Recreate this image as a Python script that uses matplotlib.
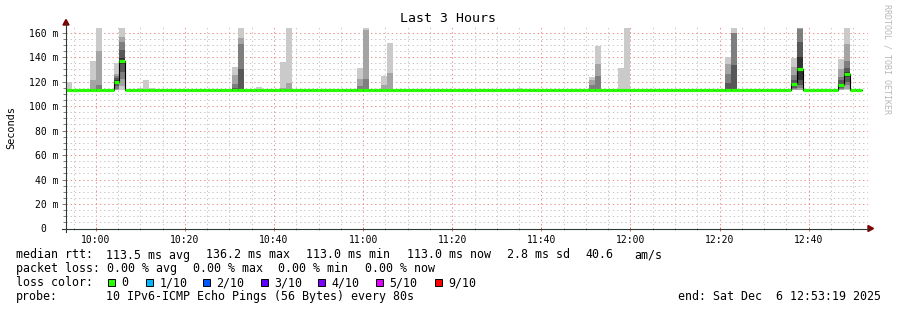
import matplotlib
matplotlib.use("Agg")
import matplotlib.pyplot as plt
from matplotlib.lines import Line2D
from matplotlib.patches import Polygon, Rectangle
from matplotlib.ticker import FixedLocator, MultipleLocator
import numpy as np

W, H = 897, 310
MONO = "DejaVu Sans Mono"

# ---------------- data ----------------
title = "Last 3 Hours"
ylabel = "Seconds"
watermark = "RRDTOOL / TOBI OETIKER"

start_min = -(6 + 41 / 60)      # graph start 09:53:19, minutes relative to 10:00
step_min = 80 / 60              # one probe round every 80 s
n_steps = 134                   # number of rounds with data
base_median = 113.0             # ms, median rtt when nothing happens

# rounds (index from graph start) that show smoke; 10 ping rtts each (ms)
event_steps = [0, 4, 5, 8, 9, 12, 13, 14, 28, 29, 32, 36, 37, 49, 50, 53, 54,
               76, 88, 89, 93, 94, 111, 112, 122, 123, 130, 131]
event_pings = [
    [113, 113, 113, 113, 113, 113, 113, 113, 113, 119.6],
    [113, 113, 113, 113, 113, 113, 113, 113, 121, 136.7],
    [113, 113, 113, 113, 113, 113, 113, 117.4, 145, 164],
    [113, 113, 114, 116, 118, 121, 123, 124.7, 126.4, 134.8],
    [113, 116, 122, 128, 134, 139, 146, 152.2, 156.3, 164],
    [113, 113, 113, 113, 113, 113, 113, 113, 113, 115],
    [113, 113, 113, 113, 113, 113, 113, 113, 113, 121.2],
    [113, 113, 113, 113, 113, 113, 113, 113, 113, 114.5],
    [113, 113, 113, 113, 113, 113, 115, 118.2, 125, 131.8],
    [113, 113, 113, 113, 113, 113, 130.5, 150.9, 155.5, 164],
    [113, 113, 113, 113, 113, 113, 113, 113, 113, 115.5],
    [113, 113, 113, 113, 113, 113, 113, 113, 115, 135.9],
    [113, 113, 113, 113, 113, 113, 113, 113, 118.8, 164],
    [113, 113, 113, 113, 113, 113, 113, 116, 121.8, 131],
    [113, 113, 113, 113, 113, 113, 113, 121.8, 162, 164],
    [113, 113, 113, 113, 113, 113, 113, 113, 117.4, 124.5],
    [113, 113, 113, 113, 113, 113, 113, 113, 126.9, 151.4],
    [113, 113, 113, 113, 113, 113, 113, 113, 113, 114.8],
    [113, 113, 113, 113, 113, 113, 113, 117, 121, 123.7],
    [113, 113, 113, 113, 113, 113, 113, 124.5, 134.5, 149],
    [113, 113, 113, 113, 113, 113, 113, 113, 113, 131],
    [113, 113, 113, 113, 113, 113, 113, 113, 113, 164],
    [113, 113, 113, 113, 113, 113, 118.8, 126.4, 134.5, 140],
    [113, 113, 113, 113, 113, 113, 133.2, 159.4, 160, 164],
    [113, 113, 114, 115, 117, 119, 121, 125, 131.8, 139.2],
    [113, 113, 115, 117, 121, 140, 152.2, 163, 163.5, 164],
    [113, 113, 114, 115, 116, 118, 121, 123.7, 130.5, 138.6],
    [113, 114, 117, 120, 124, 128, 131, 136.5, 150.9, 164],
]
median_steps = [8, 9, 122, 123, 130, 131]
median_values = [119.6, 136.5, 118.0, 130.5, 117.0, 126.1]

xtick_pos = [0, 20, 40, 60, 80, 100, 120, 140, 160]
xtick_labels = ["10:00", "10:20", "10:40", "11:00", "11:20", "11:40",
                "12:00", "12:20", "12:40"]
ytick_pos = [0, 20, 40, 60, 80, 100, 120, 140, 160]
ytick_labels = ["0  ", "20 m", "40 m", "60 m", "80 m", "100 m", "120 m",
                "140 m", "160 m"]

legend_rows = [
    ("median rtt:", [("113.5 ms avg", 106), ("136.2 ms max", 206),
                     ("113.0 ms min", 306), ("113.0 ms now", 406.5),
                     ("2.8 ms sd", 506.5), ("40.6", 585), ("am/s", 634.5)]),
    ("packet loss:", [("0.00 % avg", 106.5), ("0.00 % max", 192.5),
                      ("0.00 % min", 278.5), ("0.00 % now", 364.5)]),
    ("loss color:", []),
    ("probe:", [("10 IPv6-ICMP Echo Pings (56 Bytes) every 80s", 106)]),
]
loss_labels = ["0", "1/10", "2/10", "3/10", "4/10", "5/10", "9/10"]
loss_colors = ["#26ff00", "#00b8ff", "#0059ff", "#5e00ff", "#7e00ff",
               "#dd00ff", "#ff0000"]
loss_box_x = [108.3, 146, 203.3, 260.7, 318.3, 376, 435]
end_text = "end: Sat Dec  6 12:53:19 2025"

smoke_shades = ["#cacaca", "#a4a4a4", "#7e7e7e", "#585858", "#323232"]

# ---------------- figure ----------------
fig = plt.figure(figsize=(W / 100, H / 100), dpi=100, facecolor="white")


def fx(x):
    return x / W


def fy(y):
    return 1 - y / H


ax = fig.add_axes([fx(66), fy(228.5), (868 - 66) / W, (228.5 - 27) / H])
ax.set_facecolor("white")
for sp in ax.spines.values():
    sp.set_visible(False)

x_end = start_min + (n_steps + 1) * step_min
ax.set_xlim(start_min, x_end)
ax.set_ylim(0, 164.6)

# grid
ax.set_axisbelow(True)
ax.xaxis.set_major_locator(FixedLocator(xtick_pos))
ax.xaxis.set_minor_locator(MultipleLocator(5))
ax.yaxis.set_major_locator(FixedLocator(ytick_pos))
ax.yaxis.set_minor_locator(MultipleLocator(5))
ax.set_xticklabels(xtick_labels, family=MONO, fontsize=7)
ax.set_yticklabels(ytick_labels, family=MONO, fontsize=7)
ax.grid(which="minor", color="#c8c8c8", linestyle=(0, (1.39, 2.78)),
        linewidth=0.72)
ax.grid(which="major", color="#ee9090", linestyle=(0, (1.39, 2.78)),
        linewidth=0.72)
ax.tick_params(axis="y", which="both", direction="out", width=0.7,
               color="#808080")
ax.tick_params(axis="y", which="major", length=3, pad=2.5)
ax.tick_params(axis="y", which="minor", length=2)
ax.tick_params(axis="x", which="both", direction="inout", width=0.7)
ax.tick_params(axis="x", which="major", length=3, color="#d07070", pad=3)
ax.tick_params(axis="x", which="minor", length=2, color="#b0b0b0")

# smoke
for s, pings in zip(event_steps, event_pings):
    p = sorted(pings)
    x0 = start_min + s * step_min
    for k in range(5):
        lo, hi = p[k], p[9 - k]
        if hi > lo:
            ax.bar(x0, hi - lo, bottom=lo, width=step_min, align="edge",
                   color=smoke_shades[k], linewidth=0, zorder=2)

# median
med = np.full(n_steps, base_median)
for s, v in zip(median_steps, median_values):
    med[s] = v
edges = start_min + np.arange(n_steps + 1) * step_min
ax.step(edges, np.append(med, med[-1]), where="post", color="black",
        linewidth=0.8, zorder=3)
ax.hlines(med, edges[:-1], edges[1:], colors=loss_colors[0], linewidth=2.3,
          zorder=4)

# axis lines and arrows
axis_col = "#2c3a36"
fig.add_artist(Line2D([fx(66), fx(66)], [fy(232), fy(23)], color=axis_col,
                      linewidth=0.8))
fig.add_artist(Line2D([fx(62), fx(869)], [fy(228.5), fy(228.5)],
                      color=axis_col, linewidth=0.8))
fig.add_artist(Polygon([(fx(63), fy(25)), (fx(69), fy(25)), (fx(66), fy(19.5))],
                       closed=True, color="#800000", transform=fig.transFigure))
fig.add_artist(Polygon([(fx(868), fy(225.5)), (fx(868), fy(231.5)),
                        (fx(873.5), fy(228.5))],
                       closed=True, color="#800000", transform=fig.transFigure))

# texts
fig.text(fx(448), fy(19), title, ha="center", va="center", family=MONO,
         fontsize=9.5)
fig.text(fx(11), fy(127.5), ylabel, ha="center", va="center", rotation=90,
         family=MONO, fontsize=7.4)
fig.text(fx(887), fy(59.5), watermark, ha="center", va="center", rotation=270,
         family=MONO, fontsize=6, color="#b8b8b8")

FS = 8.4
row_y = [255, 268.5, 282.5, 296.5]
for (lab, items), y in zip(legend_rows, row_y):
    fig.text(fx(16), fy(y), lab, ha="left", va="center", family=MONO,
             fontsize=FS)
    for txt, x in items:
        fig.text(fx(x), fy(y), txt, ha="left", va="center", family=MONO,
                 fontsize=FS)

for lab, col, bx in zip(loss_labels, loss_colors, loss_box_x):
    fig.add_artist(Rectangle((fx(bx), fy(286.3)), 7 / W, 7 / H,
                             facecolor=col, edgecolor="black", linewidth=0.7,
                             transform=fig.transFigure))
    fig.text(fx(bx + 13.2), fy(282.5), lab, ha="left", va="center",
             family=MONO, fontsize=FS)

fig.text(fx(677.5), fy(296.5), end_text, ha="left", va="center", family=MONO,
         fontsize=FS)

fig.savefig("out.png", dpi=100, facecolor="white")
